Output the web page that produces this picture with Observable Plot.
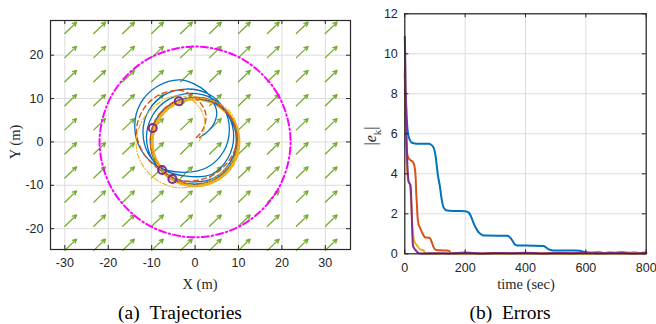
<!DOCTYPE html>
<html><head><meta charset="utf-8">
<script src="https://cdn.jsdelivr.net/npm/d3@7"></script>
<script src="https://cdn.jsdelivr.net/npm/@observablehq/plot@0.6"></script>
<style>
body{margin:0;background:#fff}
#wrap{position:relative;width:656px;height:324px;overflow:hidden;background:#fff}
.panel{position:absolute;top:0}
.lab{position:absolute;font-family:"Liberation Serif",serif;color:#262626;white-space:nowrap;transform:translate(-50%,-50%);font-size:14.5px;line-height:1}
.cap{position:absolute;font-family:"Liberation Serif",serif;color:#000;white-space:nowrap;transform:translate(-50%,-50%);font-size:19.5px;line-height:1}
</style></head><body>
<div id="wrap">
 <div id="pa" class="panel" style="left:0;width:360px;height:300px"></div>
 <div id="pb" class="panel" style="left:360px;width:296px;height:300px"></div>
 <div class="lab" style="left:200px;top:283.5px">X (m)</div>
 <div class="lab" style="left:15px;top:142px;transform:translate(-50%,-50%) rotate(-90deg)">Y (m)</div>
 <div class="lab" style="left:526px;top:283.5px">time (sec)</div>
 <div class="lab" style="left:373px;top:136px;font-size:16px;transform:translate(-50%,-50%) rotate(-90deg)">|<i>e</i><sub style="font-size:11px">k</sub>|</div>
 <div class="cap" style="left:180px;top:313px">(a)&nbsp;&nbsp;Trajectories</div>
 <div class="cap" style="left:510px;top:313px">(b)&nbsp;&nbsp;Errors</div>
</div>
<script>
// ---------- Panel (a) data ----------
const xTicksA = [-30, -20, -10, 0, 10, 20, 30];
const yTicksA = [-20, -10, 0, 10, 20];
const gridX = [-30, -23.33, -16.67, -10, -3.33, 3.33, 10, 16.67, 23.33, 30];
const gridY = [-25, -19.44, -13.89, -8.33, -2.78, 2.78, 8.33, 13.89, 19.44, 25];
const quiverU = 2.7;
const quiverV = 2.6;

const magentaX = [22, 19.05, 11, 0, -11, -19.05, -22, -19.05, -11, 0, 11, 19.05];
const magentaY = [0, 11, 19.05, 22, 19.05, 11, 0, -11, -19.05, -22, -19.05, -11];

const orbitX = [10, 8.66, 5, 0, -5, -8.66, -10, -8.66, -5, 0, 5, 8.66];
const orbitY = [0, 5, 8.66, 10, 8.66, 5, 0, -5, -8.66, -10, -8.66, -5];

const blueX = [1.0, 3.0, 4.5, 5.0, 4.2, 2.3,
  -3.2, -8.55, -12.5, -13.9, -12.5, -8.55, -3.0, 2.75, 6.6, 7.9, 6.7, 3.2,
  -2.0, -7.0, -10.7, -12.0, -10.7, -7.0, -2.0, 3.85, 7.55, 8.9, 7.55, 3.85,
  -1.0, -6.1, -9.8, -11.2, -9.8, -6.1, -1.0, 4.45, 8.15, 9.5, 8.15, 4.45,
  -0.3, -5.3, -9.0, -10.3, -9.0, -5.3, -0.3, 4.7, 8.4, 9.7, 8.4, 4.7, -0.2];
const blueY = [1.0, 2.5, 4.5, 6.8, 9.2, 11.8,
  14.3, 12.9, 9.0, 3.6, -1.75, -5.7, -7.0, -5.9, -2.15, 2.8, 7.6, 11.0,
  12.2, 10.9, 7.2, 2.2, -2.8, -6.5, -7.9, -7.45, -3.75, 1.3, 6.35, 10.05,
  11.2, 9.8, 6.1, 1.0, -4.1, -7.8, -9.2, -8.25, -4.55, 0.5, 5.55, 9.25,
  10.2, 8.9, 5.2, 0.2, -4.8, -8.5, -9.8, -8.5, -4.8, 0.2, 5.2, 8.9, 10.1];

const orangeX = [0.3, 1.6, 2.4, 2.4, 1.2, -1.0, -3.5, -8.4, -12.0, -13.5, -12.0, -8.4, -2.5, 3.6, 7.8, 9.7, 8.3, 4.5,
  -0.3, -5.3, -9.0, -10.3, -9.0, -5.3, -0.3, 4.7, 8.4, 9.7, 8.4, 4.7, -0.3];
const orangeY = [1.0, 2.5, 4.6, 6.8, 9.0, 10.9, 11.9, 10.8, 7.4, 2.5, -2.4, -6.2, -9.0, -7.9, -4.3, 0.5, 5.6, 9.3,
  10.3, 9.0, 5.3, 0.3, -4.7, -8.4, -9.7, -8.4, -4.7, 0.3, 5.3, 9.0, 10.3];

const yellowX = [1.0, 2.0, 2.2, 1.3, -0.5, -3.0, -6.0, -9.0, -11.8, -13.3, -13.5, -12.3, -9.5, -5.8, -1.8, 2.5, 6.0, 8.8, 10.0,
  9.6, 7.8, 4.6, 0.5, -3.5, -7.0, -9.3, -10.1, -9.4, -7.2, -3.6, 0.2, 4.0, 7.1, 9.3, 10.0];
const yellowY = [0.3, 2.5, 5.0, 7.5, 9.5, 10.6, 10.3, 8.5, 5.5, 2.0, -1.5, -5.0, -8.3, -10.2, -10.5, -9.5, -7.2, -4.0, 0,
  4.0, 7.2, 9.3, 10.1, 9.4, 7.2, 3.8, 0, -3.8, -7.1, -9.3, -10.0, -9.2, -7.1, -3.7, 0];

const markX = [-3.76, -9.75, -7.6, -5.22];
const markY = [9.38, 3.23, -6.46, -8.54];

// ---------- Panel (b) data ----------
const xTicksB = [0, 200, 400, 600, 800];
const yTicksB = [0, 2, 4, 6, 8, 10, 12];
const tBlue = [0, 3, 8, 13, 24, 41, 79, 90, 97, 102, 106, 110, 116, 122, 129, 140, 165, 200, 212, 220, 229, 240, 250, 258, 272,
  340, 350, 357, 363, 368, 378, 400, 460, 468, 474, 482, 490, 504, 560, 582, 592, 600, 608, 615, 640, 660, 680, 700, 720, 740, 760, 780, 800];
const eBlue = [8.2, 7.9, 6.4, 5.85, 5.55, 5.5, 5.5, 5.42, 5.25, 4.9, 4.4, 3.9, 3.4, 2.75, 2.3, 2.16, 2.14, 2.13, 2.06, 1.85, 1.5, 1.17, 1.0, 0.93, 0.91,
  0.9, 0.8, 0.65, 0.5, 0.44, 0.41, 0.41, 0.39, 0.32, 0.25, 0.2, 0.17, 0.16, 0.16, 0.15, 0.1, 0.07, 0.05, 0.05, 0.08, 0.04, 0.07, 0.04, 0.08, 0.05, 0.06, 0.04, 0.06];
const tOrange = [0, 4, 8, 12, 19, 27, 33, 36, 38, 40, 42, 45, 49, 55, 62, 68, 80, 85, 90, 95, 100, 110, 125, 140, 148, 152, 160, 200, 250, 300, 400, 500, 600, 700, 800];
const eOrange = [9.0, 6.0, 5.0, 4.8, 4.68, 4.6, 4.3, 3.8, 3.0, 2.5, 1.9, 1.5, 1.35, 1.15, 0.92, 0.82, 0.8, 0.75, 0.55, 0.35, 0.22, 0.18, 0.17, 0.16, 0.13, 0.04, 0.02, 0.03, 0.02, 0.04, 0.03, 0.02, 0.03, 0.03, 0.03];
const tYellow = [0, 4, 8, 12, 16, 19, 22, 25, 28, 31, 36, 42, 48, 55, 62, 66, 70, 120, 200, 300, 400, 500, 600, 700, 800];
const eYellow = [9.2, 6.0, 4.2, 3.6, 3.5, 3.1, 2.3, 1.4, 0.9, 0.65, 0.5, 0.38, 0.26, 0.2, 0.18, 0.05, 0.0, 0.01, 0.02, 0.0, 0.02, 0.01, 0.0, 0.02, 0.01];
const tPurple = [0, 2, 4, 6, 9, 13, 19, 21, 23, 25, 27, 31, 36, 42, 50, 60, 100, 150, 200, 250, 300, 350, 400, 450, 500, 550, 600, 650, 700, 750, 800];
const ePurple = [10.85, 9.3, 7.0, 5.6, 4.3, 3.6, 3.42, 2.9, 2.0, 1.0, 0.4, 0.28, 0.18, 0.08, 0.02, 0.02, 0.03, 0.02, 0.06, 0.02, 0.04, 0.03, 0.05, 0.02, 0.04, 0.03, 0.06, 0.03, 0.05, 0.02, 0.04];

// ---------- colours ----------
const C = {blue: "#0072BD", orange: "#D95319", yellow: "#EDB120", purple: "#7E2F8E", green: "#77AC30", magenta: "#FF00FF", axis: "#262626", grid: "#dcdcdc"};
const pts = (xs, ys) => xs.map((x, i) => ({x, y: ys[i]}));
const fmt = d => String(d);
const axisFont = "'Liberation Sans', Arial, sans-serif";

// ---------- Panel (a) ----------
const arrows = gridX.flatMap(x => gridY.map(y => ({x, y, x2: x + quiverU, y2: y + quiverV})));
const wA = 360, hA = 300, mlA = 50, mrA = 10, mtA = 20, mbA = 51;
const pwA = wA - mlA - mrA, phA = hA - mtA - mbA;
const tick = 4;
const plotA = Plot.plot({
  width: wA, height: hA, marginLeft: mlA, marginRight: mrA, marginTop: mtA, marginBottom: mbA,
  x: {domain: [-33.3, 35.8]},
  y: {domain: [-24.8, 28]},
  style: {fontFamily: axisFont, fontSize: "12.5px", color: C.axis, background: "transparent", overflow: "visible"},
  marks: [
    Plot.gridX(xTicksA, {stroke: C.grid, strokeOpacity: 1}),
    Plot.gridY(yTicksA, {stroke: C.grid, strokeOpacity: 1}),
    Plot.arrow(arrows, {x1: "x", y1: "y", x2: "x2", y2: "y2", stroke: C.green, strokeWidth: 1.3, headLength: 5, headAngle: 55}),
    Plot.line(pts(magentaX, magentaY), {x: "x", y: "y", stroke: C.magenta, strokeWidth: 2, strokeDasharray: "7,3,1.5,3", curve: "catmull-rom-closed"}),
    Plot.line(pts(orbitX, orbitY), {x: "x", y: "y", stroke: C.yellow, strokeWidth: 4, curve: "catmull-rom-closed"}),
    Plot.line(pts(blueX, blueY), {x: "x", y: "y", stroke: C.blue, strokeWidth: 1.3, curve: "catmull-rom"}),
    Plot.line(pts(orangeX, orangeY), {x: "x", y: "y", stroke: C.orange, strokeWidth: 1.4, strokeDasharray: "5,3.5", curve: "catmull-rom"}),
    Plot.line(pts(yellowX, yellowY), {x: "x", y: "y", stroke: C.yellow, strokeWidth: 1.1, strokeDasharray: "5,2,1,2", curve: "catmull-rom"}),
    Plot.dot(pts(markX, markY), {x: "x", y: "y", r: 4, stroke: C.purple, strokeWidth: 2, fill: "none"}),
    Plot.tickX(xTicksA, {x: d => d, stroke: C.axis, insetTop: phA - tick}),
    Plot.tickX(xTicksA, {x: d => d, stroke: C.axis, insetBottom: phA - tick}),
    Plot.tickY(yTicksA, {y: d => d, stroke: C.axis, insetRight: pwA - tick}),
    Plot.tickY(yTicksA, {y: d => d, stroke: C.axis, insetLeft: pwA - tick}),
    Plot.axisX(xTicksA, {tickSize: 0, tickPadding: 9, tickFormat: fmt, label: null, fontSize: 12.5}),
    Plot.axisY(yTicksA, {tickSize: 0, tickPadding: 7, tickFormat: fmt, label: null, fontSize: 12.5}),
    Plot.frame({stroke: C.axis, strokeWidth: 1.2})
  ]
});
document.getElementById("pa").appendChild(plotA);

// ---------- Panel (b) ----------
const wB = 296, hB = 300, mlB = 44.3, mrB = 10.3, mtB = 13.3, mbB = 46.7;
const pwB = wB - mlB - mrB, phB = hB - mtB - mbB;
const plotB = Plot.plot({
  width: wB, height: hB, marginLeft: mlB, marginRight: mrB, marginTop: mtB, marginBottom: mbB,
  x: {domain: [0, 800]},
  y: {domain: [0, 12]},
  style: {fontFamily: axisFont, fontSize: "12.5px", color: C.axis, background: "transparent", overflow: "visible"},
  marks: [
    Plot.gridX(xTicksB, {stroke: C.grid, strokeOpacity: 1}),
    Plot.gridY(yTicksB, {stroke: C.grid, strokeOpacity: 1}),
    Plot.line(pts(tBlue, eBlue), {x: "x", y: "y", stroke: C.blue, strokeWidth: 2, curve: "monotone-x"}),
    Plot.line(pts(tOrange, eOrange), {x: "x", y: "y", stroke: C.orange, strokeWidth: 2, curve: "monotone-x"}),
    Plot.line(pts(tYellow, eYellow), {x: "x", y: "y", stroke: C.yellow, strokeWidth: 2, curve: "monotone-x"}),
    Plot.line(pts(tPurple, ePurple), {x: "x", y: "y", stroke: C.purple, strokeWidth: 2, curve: "monotone-x"}),
    Plot.tickX(xTicksB, {x: d => d, stroke: C.axis, insetTop: phB - tick}),
    Plot.tickX(xTicksB, {x: d => d, stroke: C.axis, insetBottom: phB - tick}),
    Plot.tickY(yTicksB, {y: d => d, stroke: C.axis, insetRight: pwB - tick}),
    Plot.tickY(yTicksB, {y: d => d, stroke: C.axis, insetLeft: pwB - tick}),
    Plot.axisX(xTicksB, {tickSize: 0, tickPadding: 9, tickFormat: fmt, label: null, fontSize: 12.5}),
    Plot.axisY(yTicksB, {tickSize: 0, tickPadding: 7, tickFormat: fmt, label: null, fontSize: 12.5}),
    Plot.frame({stroke: C.axis, strokeWidth: 1.2})
  ]
});
document.getElementById("pb").appendChild(plotB);
</script>
</body></html>
